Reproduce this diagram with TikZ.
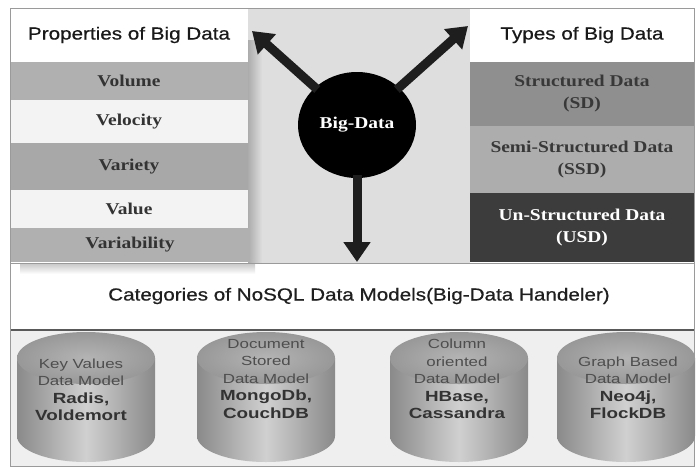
\documentclass[tikz,border=0pt]{standalone}
\usepackage{fontspec}
\setmainfont{Liberation Serif}[FakeStretch=1.18]
\setsansfont{Liberation Sans}[FakeStretch=1.18]
\newfontfamily\ttlfont{Liberation Sans}[FakeStretch=1.18,FakeBold=0.6]
\newfontfamily\cylfont{Liberation Sans}[FakeStretch=1.28]
\usetikzlibrary{shapes.geometric,arrows.meta}
\definecolor{midbg}{HTML}{DEDEDE}
\definecolor{cellA}{HTML}{B0B0B0}
\definecolor{cellB}{HTML}{A8A8A8}
\definecolor{cellW}{HTML}{F3F3F3}
\definecolor{celltext}{HTML}{333333}
\definecolor{sdfill}{HTML}{8F8F8F}
\definecolor{ssdfill}{HTML}{ADADAD}
\definecolor{usdfill}{HTML}{3C3C3C}
\definecolor{arrowc}{HTML}{1E1E1E}
\definecolor{framec}{HTML}{9A9A9A}
\definecolor{bandbg}{HTML}{EFEFEF}
\definecolor{cylEdge}{HTML}{8A8A8A}
\definecolor{cylMid}{HTML}{D0D0D0}
\definecolor{cylTopA}{HTML}{B4B4B4}
\definecolor{cylTopB}{HTML}{989898}
\definecolor{cyltxt}{HTML}{4E4E4E}
\definecolor{cylbold}{HTML}{333333}
\tikzset{
  ttl/.style={rectangle, fill=white, inner sep=0pt, text=black!90,
    font=\ttlfont\fontsize{17.5}{20}\selectfont},
  cell/.style={rectangle, inner sep=0pt, text=celltext, align=center,
    font=\rmfamily\bfseries\fontsize{16.5}{22}\selectfont},
  bigarrow/.style={draw=arrowc, line width=9pt,
    -{Triangle[width=26pt,length=20pt]}},
  cyltext/.style={align=center, inner sep=0pt, text=cyltxt,
    font=\cylfont\fontsize{13.2}{17.5}\selectfont},
}
\newcommand\cylb[1]{{\bfseries\color{cylbold}\fontsize{14.7}{17.5}\selectfont #1}}
\newcommand\dbcyl[1]{%
  \begin{scope}[shift={(#1,0)}]
    \shade[left color=cylEdge, right color=cylEdge, middle color=cylMid]
      (-69,358) -- (-69,436) arc[start angle=180, end angle=0, x radius=69, y radius=26]
      -- (69,358) -- cycle;
    \shade[inner color=cylTopA, outer color=cylTopB]
      (0,358) ellipse [x radius=69, y radius=26];
  \end{scope}}
\begin{document}
\begin{tikzpicture}[x=1pt,y=-1pt]
\useasboundingbox (0,0) rectangle (696,472);
\fill[white] (0,0) rectangle (696,472);
% middle background
\fill[midbg] (248,8) rectangle (470,263);
\shade[left color=gray!65, right color=midbg] (248,40) rectangle (262,263);
% left panel
\node[ttl, minimum width=238pt, minimum height=54pt] (ptitle) at (129,35) {Properties of Big Data};
\node[cell, fill=cellA, minimum width=238pt, minimum height=38pt] (volume) at (129,81) {Volume};
\node[cell, fill=cellW, minimum width=238pt, minimum height=43pt] (velocity) at (129,121.5) {Velocity};
\node[cell, fill=cellB, minimum width=238pt, minimum height=47pt] (variety) at (129,166.5) {Variety};
\node[cell, fill=cellW, minimum width=238pt, minimum height=38pt] (value) at (129,209) {Value};
\node[cell, fill=cellA, minimum width=240pt, minimum height=34pt] (variability) at (130,245) {Variability};
% right panel
\node[ttl, minimum width=224pt, minimum height=54pt] (ttitle) at (582,35) {Types of Big Data};
\node[cell, fill=sdfill, text=black!78, minimum width=224pt, minimum height=64pt] (sd) at (582,94) {Structured Data\\(SD)};
\node[cell, fill=ssdfill, text=black!78, minimum width=224pt, minimum height=67pt] (ssd) at (582,159.5) {Semi-Structured Data\\(SSD)};
\node[cell, fill=usdfill, text=white, minimum width=224pt, minimum height=69pt] (usd) at (582,227.5) {Un-Structured Data\\(USD)};
% center circle and arrows
\node[ellipse, fill=black, minimum width=118pt, minimum height=106pt, inner sep=0pt,
  text=white, font=\rmfamily\bfseries\fontsize{16.5}{20}\selectfont] (bd) at (357,125) {Big-Data};
\coordinate (tl) at (252,31);
\coordinate (tr) at (468,26);
\coordinate (dn) at (357,262);
\draw[bigarrow, shorten <=-3pt] (bd) -- (tl);
\draw[bigarrow, shorten <=-3pt] (bd) -- (tr);
\draw[bigarrow, shorten <=-3pt] (bd) -- (dn);
% category band
\fill[white] (10,263) rectangle (694,330);
\shade[top color=gray!45, bottom color=white] (20,263) rectangle (255,274);
\node[font=\ttlfont\fontsize{17.5}{20}\selectfont, text=black!88, inner sep=0pt] (cat) at (359,296)
  {Categories of NoSQL Data Models(Big-Data Handeler)};
% bottom band
\fill[bandbg] (10,330) rectangle (694,466);
\draw[black!65, line width=1.5pt] (10,330) -- (694,330);
\draw[framec, line width=0.8pt] (10,263) -- (694,263);
\draw[framec, line width=0.8pt] (10,8) rectangle (694,466);
% cylinders
\dbcyl{86}
\dbcyl{266}
\dbcyl{459}
\dbcyl{626}
\node[cyltext] (kv) at (81,390) {Key Values\\Data Model\\\cylb{Radis,}\\\cylb{Voldemort}};
\node[cyltext] (doc) at (266,379) {Document\\Stored\\Data Model\\\cylb{MongoDb,}\\\cylb{CouchDB}};
\node[cyltext] (col) at (457,379) {Column\\oriented\\Data Model\\\cylb{HBase,}\\\cylb{Cassandra}};
\node[cyltext] (graph) at (628,388) {Graph Based\\Data Model\\\cylb{Neo4j,}\\\cylb{FlockDB}};
\end{tikzpicture}
\end{document}
